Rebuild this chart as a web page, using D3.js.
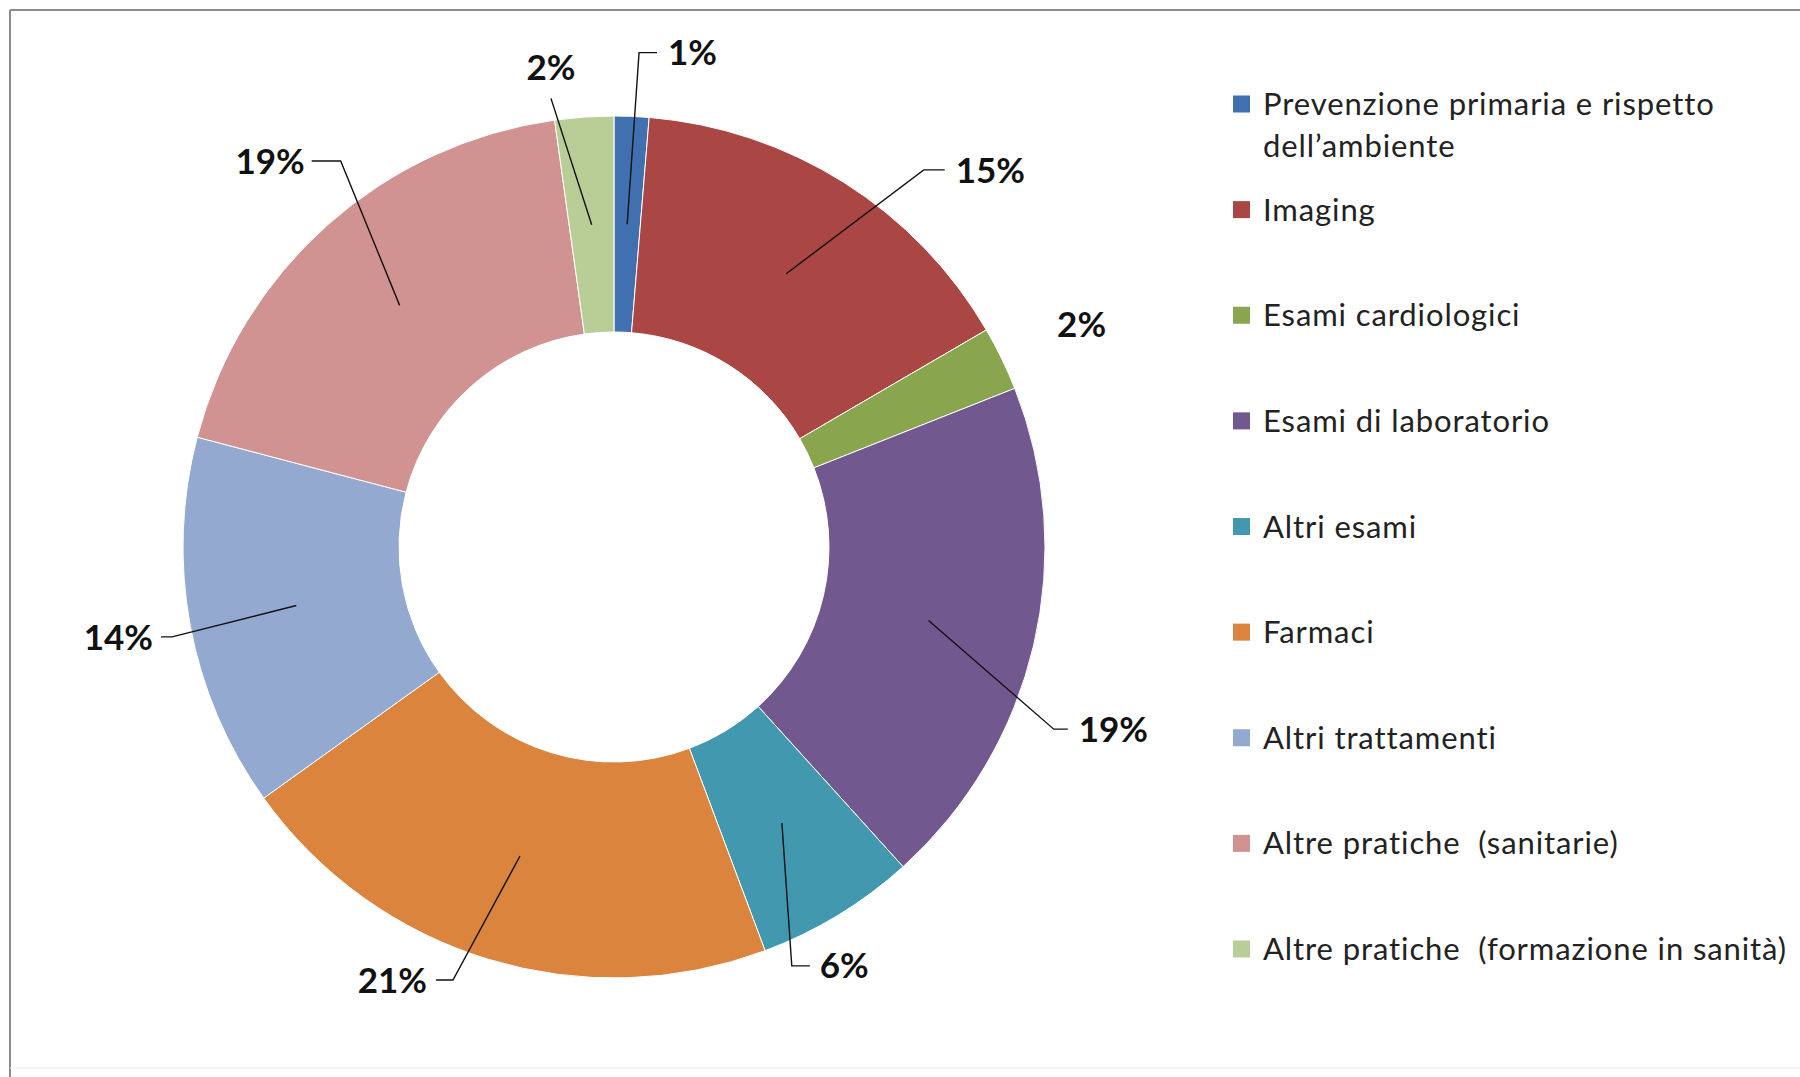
<!DOCTYPE html>
<html><head><meta charset="utf-8">
<script src="https://cdn.jsdelivr.net/npm/d3@7"></script>
<style>body{margin:0;background:#fff} svg{display:block}</style>
</head><body>
<svg id="chart" width="1800" height="1077"></svg>
<script>
// ---- data ----
const categories = [
  "Prevenzione primaria e rispetto dell’ambiente",
  "Imaging",
  "Esami cardiologici",
  "Esami di laboratorio",
  "Altri esami",
  "Farmaci",
  "Altri trattamenti",
  "Altre pratiche  (sanitarie)",
  "Altre pratiche  (formazione in sanità)"
];
const legendLines = [
  ["Prevenzione primaria e rispetto", "dell’ambiente"],
  ["Imaging"],
  ["Esami cardiologici"],
  ["Esami di laboratorio"],
  ["Altri esami"],
  ["Farmaci"],
  ["Altri trattamenti"],
  ["Altre pratiche  (sanitarie)"],
  ["Altre pratiche  (formazione in sanità)"]
];
const values = [1.3, 15.3, 2.4, 19.3, 6.0, 20.8, 14.0, 18.7, 2.2];
const colors = ["#4170B0", "#AA4643", "#89A54E", "#71588F", "#4198AF", "#DB843D", "#93A9CF", "#D19392", "#B9CD96"];

// ---- layout (label placement, not data) ----
// elbow angle (deg, clockwise from 12 o'clock), elbow radius, side, tick length, text gap, line?
const labelLayout = [
  {a: 2.9,   r: 495, side: 1,  tick: 18, gap: 11, line: true},
  {a: 39.4,  r: 488, side: 1,  tick: 21, gap: 11, line: true},
  {a: 63.3,  r: 496, side: 1,  tick: 0,  gap: 0,  line: false},
  {a: 112.5, r: 476, side: 1,  tick: 14, gap: 11, line: true},
  {a: 157,   r: 455, side: 1,  tick: 18, gap: 10, line: true},
  {a: 200.4, r: 462, side: -1, tick: 17, gap: 9,  line: true},
  {a: 258.5, r: 451, side: -1, tick: 11, gap: 8,  line: true},
  {a: 324.7, r: 473, side: -1, tick: 29, gap: 7,  line: true},
  {a: 352,   r: 453, side: 0,  tick: 0,  gap: 0,  line: true}
];

const svg = d3.select("#chart");
const W = 1800, H = 1077;

// frame
svg.append("line").attr("x1", 10).attr("y1", 10).attr("x2", 10).attr("y2", H).attr("stroke", "#8c8c8c").attr("stroke-width", 2);
svg.append("line").attr("x1", 10).attr("y1", 10).attr("x2", W).attr("y2", 10).attr("stroke", "#8c8c8c").attr("stroke-width", 2);
svg.append("line").attr("x1", 10).attr("y1", 1068).attr("x2", W).attr("y2", 1068).attr("stroke", "#ececec").attr("stroke-width", 1);

const cx = 614, cy = 547, R = 431, r0 = 215;
const g = svg.append("g").attr("transform", `translate(${cx},${cy})`);

const pie = d3.pie().sort(null).value(d => d)(values);
const arc = d3.arc().innerRadius(r0).outerRadius(R);
const midArc = d3.arc().innerRadius((R + r0) / 2).outerRadius((R + r0) / 2);

g.selectAll("path.slice").data(pie).join("path")
  .attr("class", "slice")
  .attr("d", arc)
  .attr("fill", (d, i) => colors[i])
  .attr("stroke", "#ffffff")
  .attr("stroke-width", 1);

const total = d3.sum(values);
const pct = v => Math.round(v / total * 100) + "%";
const polar = (deg, rad) => [rad * Math.sin(deg * Math.PI / 180), -rad * Math.cos(deg * Math.PI / 180)];

const labelFont = "Lato, 'Open Sans', sans-serif";
pie.forEach((d, i) => {
  const L = labelLayout[i];
  const c = midArc.centroid(d);
  const e = polar(L.a, L.r);
  if (L.line) {
    const pts = [c, e];
    if (L.side !== 0) pts.push([e[0] + L.side * L.tick, e[1]]);
    g.append("path")
      .attr("d", d3.line()(pts))
      .attr("fill", "none")
      .attr("stroke", "#111")
      .attr("stroke-width", 1.4);
  }
  const t = g.append("text")
    .attr("font-family", labelFont)
    .attr("font-weight", 700)
    .attr("font-size", 35)
    .attr("fill", "#111")
    .text(pct(values[i]));
  if (L.side === 0) {
    t.attr("x", e[0]).attr("y", e[1] - 31).attr("text-anchor", "middle").attr("dy", "0.36em");
  } else if (!L.line) {
    t.attr("x", e[0]).attr("y", e[1]).attr("text-anchor", "start").attr("dy", "0.36em");
  } else {
    t.attr("x", e[0] + L.side * (L.tick + L.gap)).attr("y", e[1])
     .attr("text-anchor", L.side > 0 ? "start" : "end").attr("dy", "0.36em");
  }
});

// legend
const legendY = d3.scalePoint().domain(d3.range(categories.length)).range([104, 949]);
const lg = svg.append("g");
categories.forEach((c, i) => {
  const y = legendY(i);
  lg.append("rect").attr("x", 1233).attr("y", y - 8.5).attr("width", 17).attr("height", 17).attr("fill", colors[i]);
  legendLines[i].forEach((ln, k) => {
    lg.append("text")
      .attr("x", 1263).attr("y", y + 11 + k * 42)
      .attr("font-family", labelFont)
      .attr("font-size", 31)
      .attr("letter-spacing", 0.9)
      .attr("fill", "#222")
      .style("white-space", "pre")
      .text(ln);
  });
});
</script>
</body></html>
